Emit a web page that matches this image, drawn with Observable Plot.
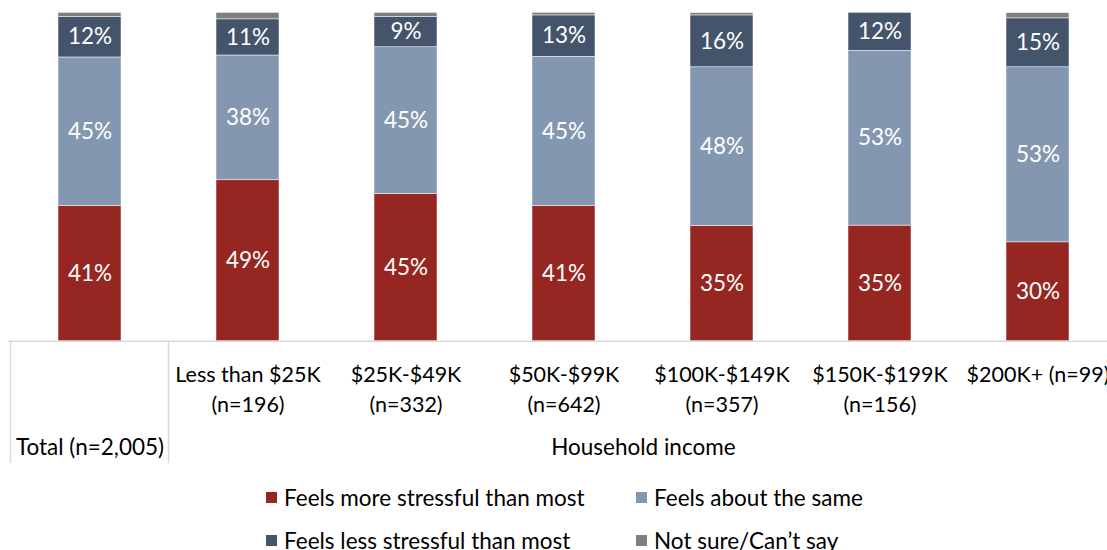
<!DOCTYPE html>
<html><head><meta charset="utf-8">
<script src="https://cdn.jsdelivr.net/npm/d3@7"></script>
<script src="https://cdn.jsdelivr.net/npm/@observablehq/plot@0.6"></script>
<style>
body{margin:0;background:#fff;font-family:Lato,sans-serif;}
#chart{width:1107px;height:550px;overflow:hidden;position:relative;}
#chart svg{display:block;}
.legend{margin-top:5.5px;padding-left:266px;display:grid;grid-template-columns:370px 400px;grid-auto-rows:43px;font-size:22.5px;color:#000;}
.item{display:flex;align-items:center;white-space:nowrap;}
.sw{width:11px;height:11px;margin-right:7px;flex:none;}
</style></head><body><div id="chart"></div><script>
const categories = ["Total", "Less than $25K", "$25K-$49K", "$50K-$99K", "$100K-$149K", "$150K-$199K", "$200K+"];
const categoryLabels = ["Total (n=2,005)", "Less than $25K\n(n=196)", "$25K-$49K\n(n=332)", "$50K-$99K\n(n=642)", "$100K-$149K\n(n=357)", "$150K-$199K\n(n=156)", "$200K+ (n=99)"];
const groupLabel = "Household income";
const seriesNames = ["Feels more stressful than most", "Feels about the same", "Feels less stressful than most", "Not sure/Can’t say"];
const seriesColors = ["#952621", "#8497B0", "#44546A", "#7F7F7F"];
const moreStressful = [41.1, 49.0, 44.8, 41.2, 35.1, 35.2, 30.1];
const aboutSame = [45.3, 38.0, 44.7, 45.4, 48.3, 53.2, 53.3];
const lessStressful = [12.3, 11.0, 9.2, 12.6, 15.8, 11.6, 14.9];
const notSure = [1.3, 2.0, 1.3, 0.8, 0.7, 0, 1.6];

const seriesValues = [moreStressful, aboutSame, lessStressful, notSure];
const data = [];
seriesValues.forEach((vals, s) => vals.forEach((v, i) => data.push({category: categories[i], series: seriesNames[s], value: v})));
const labelData = data.filter(d => d.series !== seriesNames[3]);
const labelOf = Object.fromEntries(categories.map((c, i) => [c, categoryLabels[i]]));

const chart = Plot.plot({
  width: 1107, height: 470,
  marginLeft: 8, marginRight: 0, marginTop: 12.3, marginBottom: 129.3,
  style: {fontFamily: "Lato, sans-serif", fontSize: "22.5px", background: "transparent", color: "#000"},
  x: {domain: categories, range: [7.6, 1119.2], paddingInner: 0.6, paddingOuter: 0.3, axis: null},
  y: {domain: [0, 100], axis: null},
  color: {domain: seriesNames, range: seriesColors},
  marks: [
    Plot.ruleY([0], {stroke: "#d9d9d9", strokeWidth: 1.5}),
    Plot.barY(data, {x: "category", y: "value", fill: "series", stroke: "white", strokeWidth: 0.5}),
    Plot.text(labelData, Plot.stackY({x: "category", y: "value", z: "series", text: d => Math.round(d.value) + "%", fill: "white"})),
    Plot.text(categories.slice(1), {x: d => d, text: d => labelOf[d], frameAnchor: "bottom", lineAnchor: "top", dy: 19.6, lineHeight: 1.395, fontSize: 21.5, fill: "#000"}),
    Plot.text([categories[0]], {x: d => d, text: d => labelOf[d], frameAnchor: "bottom", lineAnchor: "middle", dy: 106.3, fill: "#000"}),
    Plot.text([categories[3]], {x: d => d, text: () => groupLabel, frameAnchor: "bottom", lineAnchor: "middle", dy: 106.3, dx: 79.4, fill: "#000"})
  ]
});

// category-group separators, from the x scale
const sx = chart.scale("x"), sy = chart.scale("y");
const c0 = sx.apply(categories[0]) + sx.bandwidth / 2;
const y0 = sy.apply(0);
const g = d3.select(chart).append("g").attr("stroke", "#d9d9d9").attr("stroke-width", 1.5);
[c0 - sx.step / 2, c0 + sx.step / 2].forEach(x => g.append("line").attr("x1", x).attr("x2", x).attr("y1", y0).attr("y2", 463));

const root = document.getElementById("chart");
root.appendChild(chart);
const legend = document.createElement("div");
legend.className = "legend";
[0, 1, 2, 3].forEach(i => {
  const it = document.createElement("div");
  it.className = "item";
  it.innerHTML = `<span class="sw" style="background:${seriesColors[i]}"></span><span>${seriesNames[i]}</span>`;
  legend.appendChild(it);
});
root.appendChild(legend);
</script></body></html>
